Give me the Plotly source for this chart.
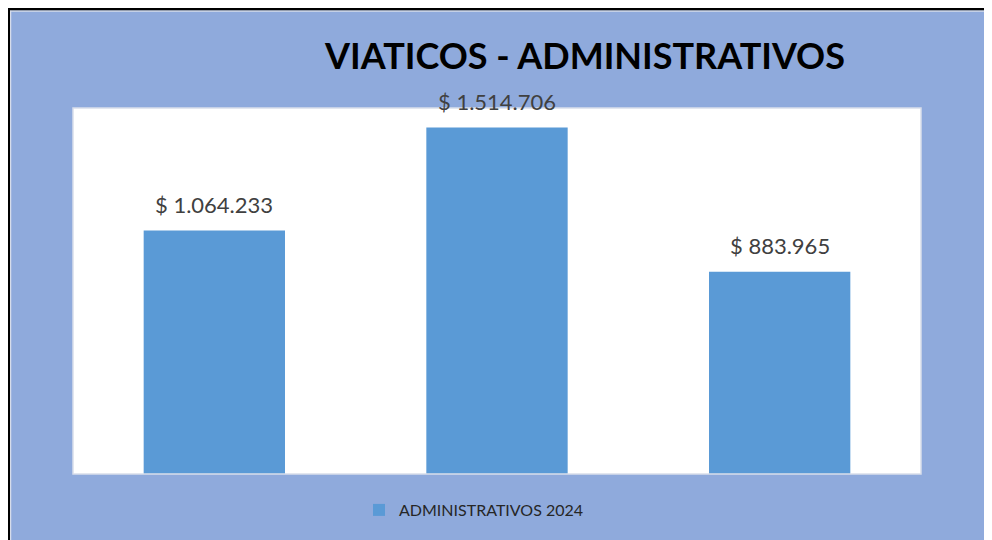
import plotly.graph_objects as go

# ---- data ----
categories = ["Periodo 1", "Periodo 2", "Periodo 3"]
values = [1064233, 1514706, 883965]
series_name = "ADMINISTRATIVOS 2024"
title_text = "VIATICOS - ADMINISTRATIVOS"

def fmt(v):
    return "$ " + f"{v:,}".replace(",", ".")

labels = [fmt(v) for v in values]

# the page shows the figure offset by the default 8px body margin
OFF = 8
W, H = 992 - OFF, 540 - OFF
ML, MR, MT, MB = 65, 71, 100, 66
PW = W - ML - MR
PH = H - MT - MB

def px2x(px):
    return (px - ML) / PW

def py2y(py):
    return (H - MB - py) / PH

BLUE_BG = "#8FAADC"
BAR = "#5A9AD6"
FONT = "Lato"

fig = go.Figure()
fig.add_trace(go.Bar(
    x=categories, y=values, name=series_name,
    marker=dict(color=BAR, line=dict(width=0)),
    width=0.5, showlegend=True,
))

for c, v, t in zip(categories, values, labels):
    fig.add_annotation(x=c, y=v, text=t, showarrow=False, yanchor="middle",
                       yshift=26, font=dict(family=FONT, size=22, color="#404040"))

shapes = [
    # light inner border
    dict(type="line", xref="paper", yref="paper", x0=px2x(2.5), x1=px2x(2.5), y0=py2y(2), y1=py2y(H + 5),
         line=dict(color="#D6DCEA", width=1.5)),
    dict(type="line", xref="paper", yref="paper", x0=px2x(2), x1=px2x(W + 5), y0=py2y(3), y1=py2y(3),
         line=dict(color="#D6DCEA", width=1.5)),
    # black frame
    dict(type="line", xref="paper", yref="paper", x0=px2x(0.5), x1=px2x(0.5), y0=py2y(0), y1=py2y(H + 5),
         line=dict(color="black", width=3)),
    dict(type="line", xref="paper", yref="paper", x0=px2x(0), x1=px2x(W + 5), y0=py2y(1), y1=py2y(1),
         line=dict(color="black", width=2.5)),
    # plot area border
    dict(type="rect", xref="paper", yref="paper", x0=0, x1=1, y0=0, y1=1,
         line=dict(color="#D9DEEA", width=1.5), layer="above"),
]

fig.update_layout(
    width=W, height=H,
    margin=dict(l=ML, r=MR, t=MT, b=MB, pad=0),
    paper_bgcolor=BLUE_BG, plot_bgcolor="white",
    title=dict(text="<b>" + title_text + "</b>", xref="container", yref="container",
               x=577 / W, xanchor="center", y=1 - 48 / H, yanchor="middle",
               font=dict(family=FONT, size=36, color="black")),
    xaxis=dict(showticklabels=False, showgrid=False, zeroline=False, ticks=""),
    yaxis=dict(range=[0, 1600000], visible=False, showgrid=False),
    bargap=0.5,
    showlegend=True,
    legend=dict(orientation="h", xref="container", yref="container",
                x=466 / W, xanchor="center", y=1 - 502 / H, yanchor="middle",
                font=dict(family=FONT, size=16, color="#262626"),
                bgcolor="rgba(0,0,0,0)"),
    shapes=shapes,
)

fig.write_html("out.html")
